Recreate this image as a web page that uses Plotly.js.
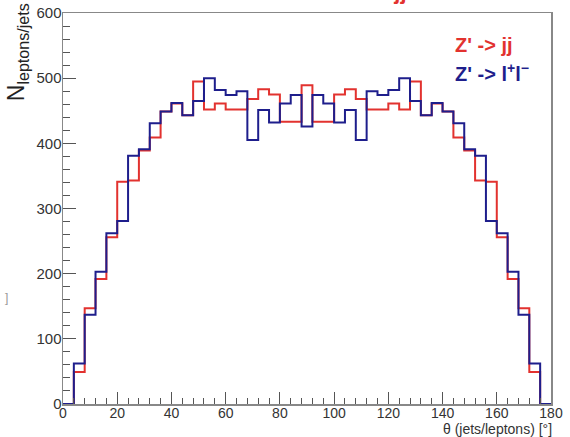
<!DOCTYPE html>
<html>
<head>
<meta charset="utf-8">
<script src="https://cdn.plot.ly/plotly-3.0.1.min.js"></script>
<style>html,body{margin:0;padding:0;background:#fff;}#chart{width:570px;height:437px;}</style>
</head>
<body>
<div id="chart"></div>
<script>
var binEdges = [0,4,8,12,16,20,24,28,32,36,40,44,48,52,56,60,64,68,72,76,80,84,88,92,96,100,104,108,112,116,120,124,128,132,136,140,144,148,152,156,160,164,168,172,176,180];
var jjCounts = [0,49,147,192,256,341,343,389,409,449,461,443,495,452,461,452,452,468,483,475,433,433,489,433,433,475,483,468,452,452,461,452,495,443,461,449,409,389,343,341,256,192,147,49,0];
var llCounts = [0,62,137,203,262,281,381,391,431,449,462,443,465,500,482,474,480,405,451,432,461,474,426,474,461,432,451,405,480,474,482,500,465,443,462,449,431,391,381,281,262,203,137,62,0];
var xTickVals = [0,20,40,60,80,100,120,140,160,180];
var yTickVals = [0,100,200,300,400,500,600];

function stepY(counts){ return counts.concat([counts[counts.length-1]]); }

var traces = [
  {x: binEdges, y: stepY(jjCounts), type:'scatter', mode:'lines', line:{shape:'hv', color:'#e2322f', width:2}, hoverinfo:'skip'},
  {x: binEdges, y: stepY(llCounts), type:'scatter', mode:'lines', line:{shape:'hv', color:'#1e1e8c', width:2}, hoverinfo:'skip'}
];

var font = 'Liberation Sans, Arial, sans-serif';
var layout = {
  width:570, height:437,
  margin:{l:63, r:19, t:13, b:33},
  paper_bgcolor:'#fff', plot_bgcolor:'#fff',
  showlegend:false,
  xaxis:{range:[0,180], tickvals:xTickVals, ticks:'inside', ticklen:12, tickcolor:'#555', tickwidth:1,
         minor:{dtick:4, ticks:'inside', ticklen:6, tickcolor:'#555', tickwidth:1},
         showgrid:false, zeroline:false, showline:true, linecolor:'#888', linewidth:1.5, mirror:true,
         ticklabelstandoff:-4,
         tickfont:{family:font, size:14, color:'#333'}},
  yaxis:{range:[0,600], tickvals:yTickVals, ticks:'inside', ticklen:13, tickcolor:'#555', tickwidth:1,
         minor:{dtick:20, ticks:'inside', ticklen:7, tickcolor:'#555', tickwidth:1},
         showgrid:false, zeroline:false, showline:true, linecolor:'#888', linewidth:1.5, mirror:true,
         ticklabelstandoff:-3,
         tickfont:{family:font, size:15, color:'#333'}},
  annotations:[
    {text:'N<sub>leptons/jets</sub>', textangle:-90, xref:'paper', yref:'paper', x:-0.094, y:0.90,
     xanchor:'center', yanchor:'middle', showarrow:false, font:{family:font, size:23, color:'#222'}},
    {text:'θ (jets/leptons) [°]', xref:'paper', yref:'paper', x:1.005, y:-0.063, borderpad:0,
     xanchor:'right', yanchor:'middle', showarrow:false, font:{family:font, size:14, color:'#333'}},
    {text:"<b>Z' -> jj</b>", xref:'paper', yref:'paper', x:0.80, y:0.918,
     xanchor:'left', yanchor:'middle', showarrow:false, font:{family:font, size:20, color:'#e2322f'}},
    {text:"<b>Z' -> l<sup>+</sup>l<sup>−</sup></b>", xref:'paper', yref:'paper', x:0.80, y:0.847,
     xanchor:'left', yanchor:'middle', showarrow:false, font:{family:font, size:20, color:'#1e1e8c'}},
    {text:"<b>' jj</b>", xref:'paper', yref:'paper', x:0.68, y:1.055,
     xanchor:'center', yanchor:'middle', showarrow:false, font:{family:font, size:22, color:'#e2322f'}},
    {text:']', xref:'paper', yref:'paper', x:-0.115, y:0.27,
     xanchor:'center', yanchor:'middle', showarrow:false, font:{family:font, size:12, color:'#999'}}
  ]
};

Plotly.newPlot('chart', traces, layout, {displayModeBar:false, staticPlot:true});
</script>
</body>
</html>
